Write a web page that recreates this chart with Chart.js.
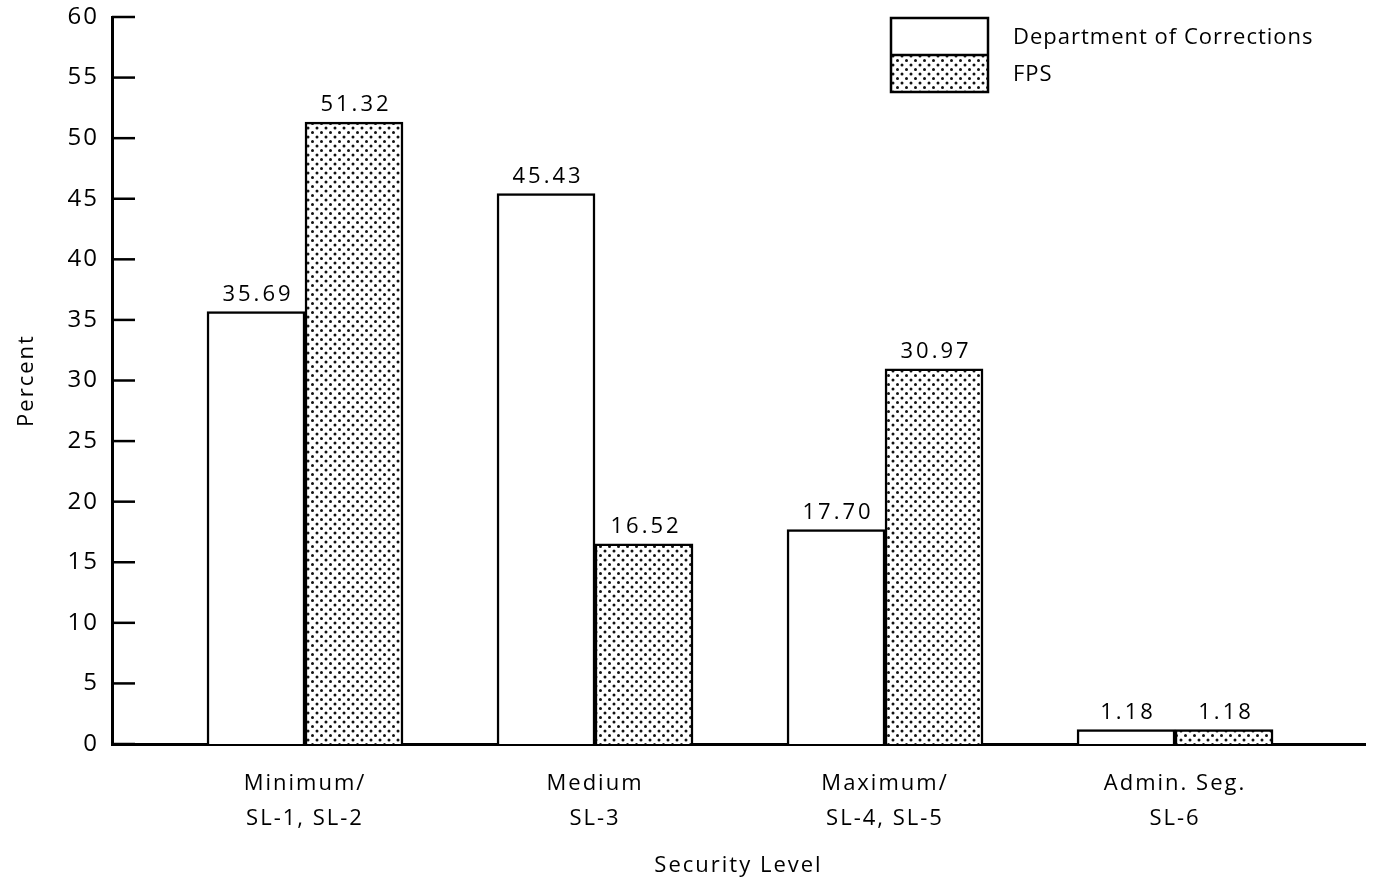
<!DOCTYPE html>
<html>
<head>
<meta charset="utf-8">
<script src="https://cdn.jsdelivr.net/npm/chart.js@4"></script>
<style>
  html, body { margin: 0; padding: 0; background: #fff; }
  #wrap { width: 1375px; height: 883px; }
</style>
</head>
<body>
<div id="wrap"><canvas id="myChart" width="1375" height="883"></canvas></div>
<script>
const categories = [
  ["Minimum/", "SL-1, SL-2"],
  ["Medium", "SL-3"],
  ["Maximum/", "SL-4, SL-5"],
  ["Admin. Seg.", "SL-6"],
];
const seriesNames = ["Department of Corrections", "FPS"];
const docValues = [35.69, 45.43, 17.70, 1.18];
const fpsValues = [51.32, 16.52, 30.97, 1.18];
const yTicks = [0, 5, 10, 15, 20, 25, 30, 35, 40, 45, 50, 55, 60];

const FONT = "'Open Sans', sans-serif";

// stipple pattern for the FPS bars
function makeDots() {
  const c = document.createElement("canvas");
  c.width = 9;
  c.height = 9;
  const g = c.getContext("2d");
  g.fillStyle = "#fff";
  g.fillRect(0, 0, 9, 9);
  g.fillStyle = "#111";
  [[2, 2], [6.5, 6.5]].forEach(([x, y]) => {
    g.beginPath();
    g.arc(x, y, 1.5, 0, Math.PI * 2);
    g.fill();
  });
  return g.createPattern(c, "repeat");
}
const dots = makeDots();

// inward tick marks, value labels and the legend box
const extras = {
  id: "extras",
  beforeDraw(chart) {
    chart.ctx.letterSpacing = "2px";
  },
  afterDraw(chart) {
    const ctx = chart.ctx;
    const y = chart.scales.y;
    const area = chart.chartArea;
    ctx.save();
    ctx.strokeStyle = "#000";
    ctx.lineWidth = 2.5;
    y.ticks.forEach((t) => {
      const py = y.getPixelForValue(t.value);
      ctx.beginPath();
      ctx.moveTo(area.left, py);
      ctx.lineTo(area.left + 23, py);
      ctx.stroke();
    });

    ctx.fillStyle = "#000";
    ctx.font = "22px " + FONT;
    ctx.letterSpacing = "3px";
    ctx.textAlign = "center";
    ctx.textBaseline = "bottom";
    chart.data.datasets.forEach((ds, di) => {
      chart.getDatasetMeta(di).data.forEach((bar, i) => {
        ctx.fillText(ds.data[i].y.toFixed(2), bar.x + 2, bar.y - 6);
      });
    });

    // legend
    const lx = 891, ly = 18, lw = 97, lh = 37;
    ctx.lineWidth = 2.5;
    ctx.fillStyle = "#fff";
    ctx.fillRect(lx, ly, lw, lh);
    ctx.fillStyle = dots;
    ctx.fillRect(lx, ly + lh, lw, lh);
    ctx.strokeRect(lx, ly, lw, lh * 2);
    ctx.beginPath();
    ctx.moveTo(lx, ly + lh);
    ctx.lineTo(lx + lw, ly + lh);
    ctx.stroke();
    ctx.fillStyle = "#000";
    ctx.textAlign = "left";
    ctx.textBaseline = "middle";
    ctx.letterSpacing = "1px";
    ctx.fillText(chart.data.datasets[0].label, 1013, ly + 20);
    ctx.fillText(chart.data.datasets[1].label, 1013, ly + lh + 20);
    ctx.restore();
  },
};

const ctx = document.getElementById("myChart").getContext("2d");
new Chart(ctx, {
  type: "bar",
  data: {
    datasets: [
      {
        label: seriesNames[0],
        data: docValues.map((v, i) => ({ x: i + 1, y: v })),
        backgroundColor: "#fff",
        borderColor: "#000",
        borderWidth: 2.5,
        barThickness: 98,
      },
      {
        label: seriesNames[1],
        data: fpsValues.map((v, i) => ({ x: i + 1, y: v })),
        backgroundColor: dots,
        borderColor: "#000",
        borderWidth: 2.5,
        barThickness: 98,
      },
    ],
  },
  options: {
    responsive: false,
    animation: false,
    layout: { padding: { top: 15, right: 10, left: 0, bottom: 0 } },
    plugins: {
      legend: { display: false },
      tooltip: { enabled: false },
    },
    scales: {
      x: {
        type: "linear",
        offset: false,
        min: 0.3345,
        max: 4.655,
        afterBuildTicks: (scale) => {
          scale.ticks = categories.map((_, i) => ({ value: i + 1 }));
        },
        afterFit: (scale) => {
          scale.height = 139;
        },
        grid: { display: false, offset: false },
        border: { display: true, color: "#000", width: 3 },
        ticks: {
          color: "#000",
          padding: 14,
          maxRotation: 0,
          autoSkip: false,
          font: { family: FONT, size: 22, lineHeight: 1.6 },
          callback: (value) => categories[value - 1] || "",
        },
        title: {
          display: true,
          text: "Security Level",
          color: "#000",
          font: { family: FONT, size: 22 },
          padding: { top: 26 },
        },
      },
      y: {
        min: 0,
        max: 60,
        afterBuildTicks: (scale) => {
          scale.ticks = yTicks.map((v) => ({ value: v }));
        },
        afterFit: (scale) => {
          scale.width = 112;
        },
        grid: { display: false },
        border: { display: true, color: "#000", width: 3 },
        ticks: {
          color: "#000",
          padding: 5,
          font: { family: FONT, size: 24, lineHeight: 1 },
        },
        title: {
          display: true,
          text: "Percent",
          color: "#000",
          font: { family: FONT, size: 22 },
          padding: { top: 14 },
        },
      },
    },
  },
  plugins: [extras],
});
</script>
</body>
</html>
